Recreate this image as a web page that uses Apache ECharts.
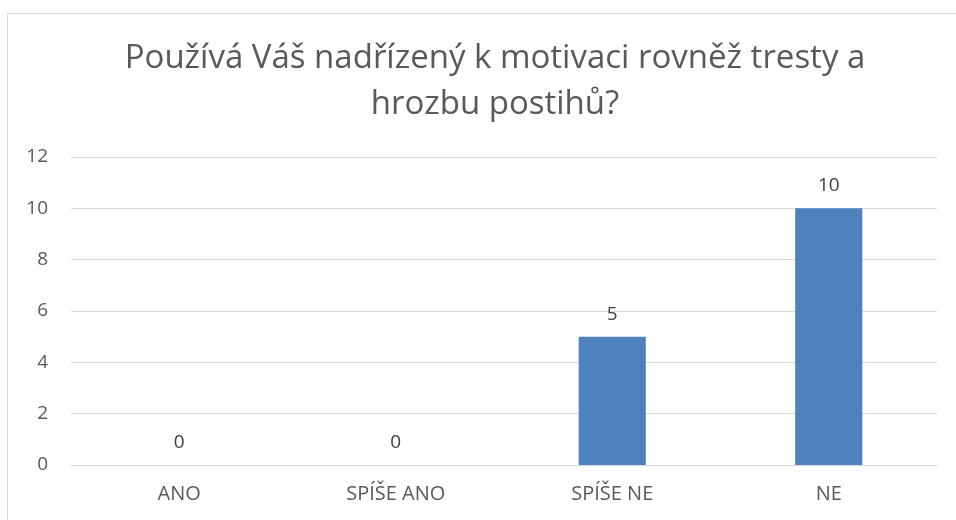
<!DOCTYPE html>
<html><head><meta charset="utf-8">
<script src="https://cdn.jsdelivr.net/npm/echarts@6/dist/echarts.min.js"></script>
<style>html,body{margin:0;padding:0;background:#fff}#c{width:956px;height:520px}</style>
</head><body><div id="c"></div>
<script>
const titleText = "Používá Váš nadřízený k motivaci rovněž tresty a\nhrozbu postihů?";
const categories = ["ANO", "SPÍŠE ANO", "SPÍŠE NE", "NE"];
const values = [0, 0, 5, 10];
const yTicks = [0, 2, 4, 6, 8, 10, 12];

const chart = echarts.init(document.getElementById('c'), null, {renderer: 'canvas'});
const FONT = 'Open Sans';
chart.setOption({
  animation: false,
  backgroundColor: '#fff',
  graphic: [{
    type: 'rect', shape: {x: 7.5, y: 13.5, width: 960, height: 520},
    style: {fill: 'none', stroke: '#D9D9D9', lineWidth: 1}, silent: true
  }],
  title: {
    text: titleText, left: 490, top: 31, textAlign: 'center',
    textStyle: {fontFamily: FONT, fontSize: 33, fontWeight: 'normal', color: '#595959', lineHeight: 46}
  },
  grid: {left: 71, right: 19, top: 157, bottom: 55, containLabel: false},
  xAxis: {
    type: 'category', data: categories,
    axisLine: {show: true, lineStyle: {color: '#D9D9D9'}},
    axisTick: {show: false},
    axisLabel: {fontFamily: FONT, fontSize: 20, color: '#595959', margin: 19}
  },
  yAxis: {
    type: 'value', min: yTicks[0], max: yTicks[yTicks.length - 1], interval: 2,
    axisLine: {show: false}, axisTick: {show: false},
    splitLine: {lineStyle: {color: '#D9D9D9', width: 1}},
    axisLabel: {fontFamily: FONT, fontSize: 19, color: '#595959', margin: 23}
  },
  series: [{
    type: 'bar', data: values, barWidth: '31%',
    itemStyle: {color: '#4F81BD'},
    label: {show: true, position: 'top', distance: 13, fontFamily: FONT, fontSize: 19, color: '#404040'}
  }]
});
</script></body></html>
